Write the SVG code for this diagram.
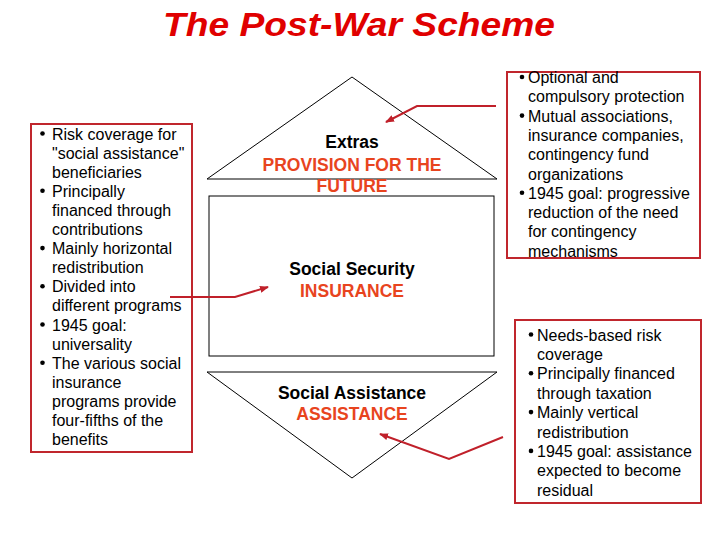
<svg xmlns="http://www.w3.org/2000/svg" width="720" height="540" viewBox="0 0 720 540">
<defs>
<style>
.box{fill:#fff;stroke:#C0262D;stroke-width:2}
.shape{fill:none;stroke:#000;stroke-width:1}
.txt{font-family:"Liberation Sans",Arial,sans-serif;font-size:16px;fill:#000}
.hd{font-family:"Liberation Sans",Arial,sans-serif;font-size:17.5px;font-weight:bold;text-anchor:middle;fill:#000}
.or{fill:#E8441E}
.con{fill:none;stroke:#C0202A;stroke-width:2}
.title{font-family:"Liberation Sans",Arial,sans-serif;font-size:34px;font-weight:bold;font-style:italic;fill:#E00000;text-anchor:middle}
</style>
<marker id="ah" markerWidth="9" markerHeight="7" refX="8" refY="3.5" orient="auto" markerUnits="userSpaceOnUse">
<path d="M0,0 L9,3.5 L0,7 Z" fill="#C0202A"/>
</marker>
</defs>
<rect width="720" height="540" fill="#fff"/>
<text class="title" x="359" y="36" textLength="392" lengthAdjust="spacingAndGlyphs">The Post-War Scheme</text>

<g id="extras">
<path class="shape" d="M207,179 L352,77 L497,179 Z"/>
<text class="hd" x="352" y="148">Extras</text>
<text class="hd or" x="352" y="171">PROVISION FOR THE</text>
<text class="hd or" x="352" y="192">FUTURE</text>
</g>

<g id="insurance">
<rect class="shape" x="209" y="196" width="285" height="160"/>
<text class="hd" x="352" y="275">Social Security</text>
<text class="hd or" x="352" y="297">INSURANCE</text>
</g>

<g id="assistance">
<path class="shape" d="M207,372 L497,372 L352,478 Z"/>
<text class="hd" x="352" y="399">Social Assistance</text>
<text class="hd or" x="352" y="420">ASSISTANCE</text>
</g>

<g id="left-box">
<rect class="box" x="31" y="124" width="161" height="328"/>
<g class="txt">
<text x="52" y="139.5">Risk coverage for</text>
<text x="52" y="158.6">"social assistance"</text>
<text x="52" y="177.7">beneficiaries</text>
<text x="52" y="196.8">Principally</text>
<text x="52" y="215.9">financed through</text>
<text x="52" y="235">contributions</text>
<text x="52" y="254.1">Mainly horizontal</text>
<text x="52" y="273.2">redistribution</text>
<text x="52" y="292.3">Divided into</text>
<text x="52" y="311.4">different programs</text>
<text x="52" y="330.5">1945 goal:</text>
<text x="52" y="349.6">universality</text>
<text x="52" y="368.7">The various social</text>
<text x="52" y="387.8">insurance</text>
<text x="52" y="406.9">programs provide</text>
<text x="52" y="426">four-fifths of the</text>
<text x="52" y="445.1">benefits</text>
</g>
<g fill="#000">
<circle cx="42.5" cy="133.5" r="2.3"/>
<circle cx="42.5" cy="190.8" r="2.3"/>
<circle cx="42.5" cy="248.1" r="2.3"/>
<circle cx="42.5" cy="286.3" r="2.3"/>
<circle cx="42.5" cy="324.5" r="2.3"/>
<circle cx="42.5" cy="362.7" r="2.3"/>
</g>
</g>

<g id="top-right-box">
<rect class="box" x="507" y="72" width="193" height="186"/>
<g class="txt">
<text x="528" y="83">Optional and</text>
<text x="528" y="102.3">compulsory protection</text>
<text x="528" y="121.6">Mutual associations,</text>
<text x="528" y="140.9">insurance companies,</text>
<text x="528" y="160.2">contingency fund</text>
<text x="528" y="179.5">organizations</text>
<text x="528" y="198.8">1945 goal: progressive</text>
<text x="528" y="218.1">reduction of the need</text>
<text x="528" y="237.4">for contingency</text>
<text x="528" y="256.7">mechanisms</text>
</g>
<g fill="#000">
<circle cx="522" cy="77" r="2.3"/>
<circle cx="522" cy="115.6" r="2.3"/>
<circle cx="522" cy="192.8" r="2.3"/>
</g>
</g>

<g id="bottom-right-box">
<rect class="box" x="515" y="320" width="186" height="183"/>
<g class="txt">
<text x="537" y="340.5">Needs-based risk</text>
<text x="537" y="359.9">coverage</text>
<text x="537" y="379.3">Principally financed</text>
<text x="537" y="398.7">through taxation</text>
<text x="537" y="418.1">Mainly vertical</text>
<text x="537" y="437.5">redistribution</text>
<text x="537" y="456.9">1945 goal: assistance</text>
<text x="537" y="476.3">expected to become</text>
<text x="537" y="495.7">residual</text>
</g>
<g fill="#000">
<circle cx="531" cy="334.5" r="2.3"/>
<circle cx="531" cy="373.3" r="2.3"/>
<circle cx="531" cy="412.1" r="2.3"/>
<circle cx="531" cy="450.9" r="2.3"/>
</g>
</g>

<g id="connectors">
<polyline class="con" points="170,297 235,297 268,287" marker-end="url(#ah)"/>
<polyline class="con" points="496,106 417,106 386,122" marker-end="url(#ah)"/>
<polyline class="con" points="503,437 449,459 380,434" marker-end="url(#ah)"/>
</g>
</svg>
